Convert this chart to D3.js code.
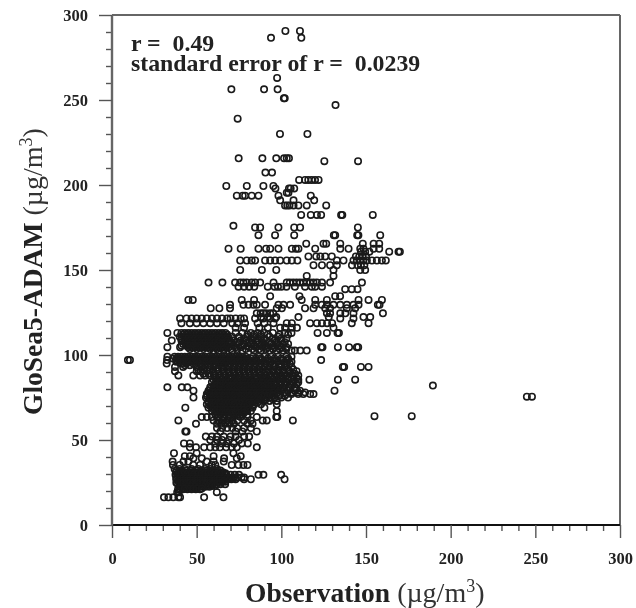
<!DOCTYPE html>
<html>
<head>
<meta charset="utf-8">
<script src="https://cdn.jsdelivr.net/npm/d3@7"></script>
<style>
  html, body { margin: 0; padding: 0; background: #fff; overflow: hidden; }
  svg { display: block; font-family: "Liberation Serif", serif; }
  #plot { filter: blur(0.6px); }
</style>
</head>
<body>
<div id="plot"></div>
<script>
const majorTicks = [0, 50, 100, 150, 200, 250, 300];
const minorTicks = [10, 20, 30, 40, 60, 70, 80, 90, 110, 120, 130, 140, 160, 170, 180, 190, 210, 220, 230, 240, 260, 270, 280, 290];
const statLines = ['r =  0.49', 'standard error of r =  0.0239'];

// The model output sits on rows, so one y per list of x
const upperLevels = [290.6, 286.6, 263, 256.3, 251, 247, 239, 230, 215.7, 214, 207.3, 203, 199.4, 198, 195.5, 193.7, 191, 188, 182.4, 176, 175, 170.5, 165.5, 162.5, 160.8, 158, 155.6, 152.8, 150, 146.5, 142.6, 140.2, 138.7];
const upperObs = [
  [102.4, 111],
  [93.9, 111.8],
  [97.5],
  [70.5, 89.8, 97.8],
  [101.5, 102],
  [132],
  [74.2],
  [99.2, 115.4],
  [74.8, 88.8, 97, 101.6, 103.2, 104.5],
  [125.4, 145.3],
  [90.6, 94.5],
  [110.5, 114, 115.9, 117.9, 119.9, 122],
  [67.5, 79.6, 89.4, 95.3],
  [96.5, 104.5, 105.5, 107.6],
  [103.2, 104.2],
  [73.7, 77.2, 78.6, 82.5, 86.5, 98.3, 117.4],
  [99.3, 107.2, 119.4],
  [102.2, 103.5, 104.8, 107.2, 110.1, 115, 126.5],
  [111.7, 117.4, 121, 123.5, 135.3, 136, 154],
  [71.7],
  [84.5, 87.5, 98.3, 107.6, 111.1, 145.2],
  [86.5, 96.3, 107.6, 131, 131.8, 144.8, 145.5, 158.4],
  [114.7, 124.9, 126.5, 134.8, 148.1, 154.5, 157.8],
  [68.8, 76, 86.5, 91, 93.4, 98.3, 106.2, 108.6, 110.1, 120, 134.8, 139.7, 146.6, 148.5, 154.5, 157.8],
  [147, 149.5, 152, 163.7, 169.2, 170],
  [116, 120.6, 123, 125.9, 129.8, 144, 146, 148, 150],
  [75.7, 79.6, 82.5, 84.5, 90.4, 93.4, 96.3, 99.3, 103.2, 106.2, 109.5, 132.8, 136.7, 142.6, 144.6, 146.6, 148.5, 150.5, 153.5, 156.4, 159.4, 161.7],
  [119, 124, 128.8, 132.8, 141.7, 145, 147, 149],
  [75.7, 88.5, 97, 130.8, 146.6, 149.5],
  [115, 130.8],
  [57, 65.2, 72.7, 75.7, 77.6, 79.6, 82.5, 84.5, 87.5, 95.4, 103.2, 105, 107, 109, 111, 113, 115, 117, 119, 121, 124, 128.8, 147.6],
  [74.7, 78, 81, 84, 92, 96, 98, 100, 103, 108, 114, 118, 120, 124],
  [137.7, 141.6, 145]
];

const middleLevels = [134.6, 132.4, 129.5, 127.5, 124.5, 122.3, 121.5, 118.7, 116, 113, 110.8, 108.5, 106.5, 104.6, 102.6, 99, 97, 95, 93];
const middleObs = [
  [93.4, 110.7, 131.8, 134.7],
  [45.1, 47.7, 76.6, 83.9, 112, 120, 126.9, 145.6, 151.5, 159.4],
  [69.7, 77.6, 80.6, 83.5, 85.5, 90.4, 98.3, 101.3, 105.2, 120, 123.9, 126.9, 130.8, 134.8, 138.7, 142.6, 145.6, 157, 158],
  [58.3, 63.4, 69.7, 97.3, 100.3, 114, 119, 125.9, 128.8, 138.7, 143.6],
  [85.5, 87.8, 89.4, 91, 93.4, 95.2, 126.9, 128.8, 134.8, 137.8, 142.6, 160],
  [88, 92, 97, 110.1, 128, 148.5, 152.5],
  [40.2, 44, 47, 50, 53, 56, 59, 62, 65, 68, 70, 73, 76, 78, 84.5, 89.4, 93.4, 96.3, 134.8, 142.6],
  [41, 46, 50, 54, 58, 62, 66, 71, 74, 78.6, 86, 90, 95.4, 103.2, 106.2, 117, 121, 124, 127, 130, 141.6, 151.5],
  [73, 78, 87, 92, 99.3, 102.2, 106.2, 109.2, 130.8],
  [32.7, 38.6, 41, 43, 45, 47, 49, 51, 53, 55, 57, 59, 61, 63, 65, 67, 73, 77, 82, 86, 90, 95, 102, 106, 121.4, 126.9, 133.2, 134],
  [40, 42.5, 44.5, 46.5, 48.5, 50.5, 52.5, 54.5, 56.5, 58.5, 60.5, 62.5, 64.5, 66.5, 68.5, 71, 75, 80, 84, 88, 93, 98],
  [35.3, 41, 43, 45, 47, 49, 51, 53, 55, 57, 59, 61, 63, 65, 67, 69, 72, 76, 79, 83, 86, 91, 96, 100],
  [42, 44, 46.5, 48.5, 50.5, 52.5, 54.5, 56.5, 58.5, 60.5, 62.5, 64.5, 66.5, 70, 74, 78, 82, 87, 90, 94, 98, 101, 104],
  [32.7, 40.2, 45, 47, 49, 51, 53, 55, 57, 59, 61, 63, 65, 67, 69, 73, 76, 81, 85, 89, 92, 96, 100, 103, 123.5, 124.3, 133.4, 140, 144.6, 145.4],
  [60, 66, 71, 77, 84, 88, 93, 97, 101, 106, 108, 111.2, 115],
  [32.7, 37, 39, 41, 43, 45, 47, 49, 51, 53, 55, 57, 59, 61, 63, 65, 67, 69, 71, 73, 75, 77, 79, 83, 87, 90, 94, 98, 103, 106],
  [9.4, 10.6, 32.5, 38, 40.5, 42.5, 44.5, 46.5, 48.5, 50.5, 52.5, 54.5, 56.5, 58.5, 60.5, 62.5, 64.5, 66.5, 68.5, 70.5, 72.5, 74.5, 76.5, 78.5, 81, 85, 88, 92, 96, 100, 104, 123.5],
  [32.3, 41, 44, 48, 52, 55, 58, 61, 64, 67, 70, 73, 76, 79, 82, 85, 88, 91, 95, 99, 102, 105],
  [37.2, 42, 50, 55, 60, 65, 69, 72, 75, 78, 81, 84, 87, 90, 93, 96, 99, 102, 106, 136.3, 137.1, 147, 151.5]
];

const lowerLevels = [90.5, 88, 85.5, 83, 81, 79, 77, 75, 73, 71, 69, 67, 65, 63.5, 61.5, 59.5, 57, 55, 52, 50, 48, 45.7];
const lowerObs = [
  [37.2, 50, 52.5, 56, 60, 63, 66, 69, 72, 75, 78, 81, 84, 87, 91, 95, 98, 101, 105, 109],
  [39.2, 48, 52, 55, 58, 61, 64, 67, 70, 73, 76, 79, 82, 85, 88, 91, 94, 97, 100, 103, 107, 110],
  [60, 62.5, 65, 67.5, 70, 72.5, 75, 77.5, 80, 82.5, 85, 87.5, 90, 92.5, 95, 98, 101, 104, 107, 110, 116.6, 133.4, 143.6],
  [61, 63.5, 66, 68.5, 71, 73.5, 76, 78.5, 81, 83.5, 86, 88.5, 91, 93.5, 96, 99, 102, 105, 109],
  [32.7, 41.2, 44.5, 58, 60.5, 63, 65.5, 68, 70.5, 73, 75.5, 78, 80.5, 83, 85.5, 88, 90.5, 93, 95.5, 98, 101, 105, 108],
  [48.1, 57, 59.5, 62, 64.5, 67, 69.5, 72, 74.5, 77, 79.5, 82, 84.5, 87, 89.5, 92, 94.5, 97, 100, 104, 108, 111, 131.4],
  [56, 58.5, 61, 63.5, 66, 68.5, 71, 73.5, 76, 78.5, 81, 83.5, 86, 88.5, 91, 93.5, 96, 99, 103, 106, 110, 113, 117, 119],
  [48.1, 55.5, 58, 60.5, 63, 65.5, 68, 70.5, 73, 75.5, 78, 80.5, 83, 85.5, 88, 90.5, 93, 96, 100, 104],
  [57, 59.5, 62, 64.5, 67, 69.5, 72, 74.5, 77, 79.5, 82, 84.5, 87, 89.5, 93, 97.3],
  [56, 58.5, 61, 63.5, 66, 68.5, 71, 73.5, 76, 78.5, 81, 84, 88, 97.3],
  [43.3, 57, 60, 62.5, 65, 67.5, 70, 72.5, 75, 77.5, 80, 83, 90],
  [59, 61.5, 64, 66.5, 69, 71.5, 74, 76.5, 79, 82, 97.3],
  [61, 64, 66.5, 69, 71.5, 74, 77, 80],
  [53, 56, 59, 62, 66, 70, 76, 80, 85.5, 97, 97.6],
  [39.2, 60, 63, 65.5, 68, 71, 74, 78, 82, 89, 91.4, 106.8],
  [49.6, 62, 64.5, 67, 69.5, 72, 80, 83],
  [62, 65, 68, 71, 74, 78, 82],
  [43.3, 44, 64, 73, 77, 85.5],
  [55.4, 59, 62, 66, 70, 73, 78, 81],
  [58, 62, 65, 69, 75],
  [42.5, 46, 61, 65, 68, 72, 76.6, 80.2],
  [46, 49.6, 54.4, 58, 61, 63.8, 67.4, 70.7, 73.7, 85.5]
];

const bottomLevels = [42.2, 40.5, 39.2, 37.3, 35.3, 33, 31, 29.5, 28, 26.9, 25.5, 24, 22.5, 21, 19.3, 16.3];
const bottomObs = [
  [36.6, 50, 71.7],
  [43, 46, 60, 76],
  [48.1, 53, 66.2, 73.7],
  [35.8, 42.2, 45.1, 56, 60, 66],
  [36, 40, 48, 52, 58.9, 61, 70.7, 74.7, 77.6, 80],
  [37, 40, 43, 47, 51, 55, 58, 62],
  [38, 40.5, 43, 45.5, 48, 50.5, 53, 55.5, 58, 60.5, 63, 65.5],
  [37.5, 40, 42.5, 45, 47.5, 50, 52.5, 55, 57.5, 60, 62.5, 65, 67.5, 70, 72.5, 75, 86.5, 89.4, 99.9],
  [39, 41.5, 44, 46.5, 49, 51.5, 54, 56.5, 59, 61.5, 64, 66.5, 69, 71.5, 74, 76.5, 78],
  [38, 40.5, 43, 45.5, 48, 50.5, 53, 55.5, 58, 60.5, 63, 65.5, 68, 70.5, 73, 78, 82, 101.9],
  [39.5, 42, 44.5, 47, 49.5, 52, 54.5, 57, 59.5, 62, 64.5, 67],
  [39, 41.5, 44, 46.5, 49, 51.5, 54, 56.5, 59, 61.5, 64, 66.8],
  [40, 42.5, 45, 47.5, 50, 52.5, 55, 57.5],
  [39, 42, 44.5, 47, 49.5, 52],
  [38.5, 39.5, 61.9],
  [30.7, 33.3, 36.2, 39.2, 40.2, 54.4, 65.8]
];

// Black areas of the cloud, where single rings can no longer be told apart
const denseLevels = [112, 109.7, 107.5, 105.5, 103.5, 98, 96, 94, 91.5, 89, 86.5, 84, 82, 80, 78, 76, 74, 72, 70, 68, 66, 64, 32, 30.5, 27.5, 26, 24.8, 23, 21.5];
const denseObs = [
  [42, 44, 46, 48, 50, 52, 54, 56, 58, 60, 62, 64, 66, 68, 80, 84, 88, 92, 99, 104],
  [41, 43, 45, 47, 49, 51, 53, 55, 57, 59, 61, 63, 65, 67, 69, 78, 82, 86, 90, 95, 100, 103],
  [43, 45, 47, 49, 51, 53, 55, 57, 59, 61, 63, 65, 67, 70, 74, 81, 85, 89, 93, 97, 102],
  [41, 44, 46, 48, 50, 52, 54, 56, 58, 60, 62, 64, 66, 68, 72, 77, 80, 84, 88, 91, 95, 99],
  [46, 50, 54, 58, 62, 66, 70, 74, 79, 83, 87, 91, 95, 99, 103],
  [36, 38, 40, 42, 44, 46, 48, 50, 52, 54, 56, 58, 60, 62, 64, 66, 68, 70, 72, 74, 76, 78, 80, 82, 85, 88, 92, 96, 100, 104],
  [38, 40, 42, 44, 46, 48, 50, 52, 54, 56, 58, 60, 62, 64, 66, 68, 70, 72, 74, 76, 78, 80, 83, 86, 90, 94, 98, 102, 106],
  [43, 46, 50, 53, 57, 60, 63, 66, 69, 72, 75, 78, 81, 84, 87, 90, 93, 96, 100, 103],
  [51, 54, 58, 62, 65, 68, 71, 74, 77, 80, 83, 86, 89, 92, 95, 98, 101, 104, 107],
  [54, 57, 60, 63, 66, 69, 72, 75, 78, 81, 84, 87, 90, 93, 96, 99, 102, 105, 108],
  [61, 64, 66, 69, 71, 74, 76, 79, 81, 84, 86, 89, 91, 94, 96, 99, 101, 104, 106, 109],
  [59, 62, 64, 67, 69, 72, 74, 77, 79, 82, 84, 87, 89, 92, 94, 97, 100, 103, 107, 110],
  [60, 62, 64, 66, 68, 70, 72, 74, 76, 78, 80, 82, 84, 86, 88, 90, 92, 94, 96, 99, 102, 106],
  [58, 60, 62, 64, 66, 68, 70, 72, 74, 76, 78, 80, 82, 84, 86, 88, 90, 92, 94, 96, 98, 101, 105, 109],
  [57, 59, 61, 63, 65, 67, 69, 71, 73, 75, 77, 79, 81, 83, 85, 87, 89, 91, 93, 95, 98, 102, 106, 110, 114],
  [56, 58, 60, 62, 64, 66, 68, 70, 72, 74, 76, 78, 80, 82, 84, 86, 88, 90, 92, 95, 99, 102],
  [58, 60, 62, 64, 66, 68, 70, 72, 74, 76, 78, 80, 82, 84, 86, 88, 91, 95],
  [57, 59, 61, 63, 65, 67, 69, 71, 73, 75, 77, 79, 81, 83, 86],
  [58, 60, 62, 64, 66, 68, 70, 72, 74, 76, 78, 80, 83],
  [60, 62, 64, 66, 68, 70, 72, 74, 76, 78, 80],
  [62, 65, 67, 69, 71, 73, 75, 78],
  [63, 66, 69, 72, 75],
  [38, 41, 44, 47, 50, 53, 56, 59, 61, 64],
  [39, 41, 43, 45, 47, 49, 51, 53, 55, 57, 59, 61, 63, 65, 67],
  [38, 40, 42, 44, 46, 48, 50, 52, 54, 56, 58, 60, 62, 64, 66, 68, 70, 72],
  [40, 42, 44, 46, 48, 50, 52, 54, 56, 58, 60, 62, 64, 66],
  [38, 40, 42, 44, 46, 48, 50, 52, 54, 56, 58, 60, 62, 64],
  [41, 43, 45, 47, 49, 51, 53, 55, 57, 59, 61],
  [40, 43, 46, 48, 50, 53]
];

const outlierObs = [189.5, 177, 155, 245, 248];
const outlierModel = [82, 64, 64, 75.5, 75.5];

const width = 636, height = 608;
const margin = { top: 15, right: 16, bottom: 83, left: 112 };

function toPoints(levels, obs) {
  return levels.flatMap((level, i) => obs[i].map(v => ({ obs: v, model: level })));
}

const points = [
  ...toPoints(upperLevels, upperObs),
  ...toPoints(middleLevels, middleObs),
  ...toPoints(lowerLevels, lowerObs),
  ...toPoints(bottomLevels, bottomObs),
  ...toPoints(denseLevels, denseObs),
  ...outlierObs.map((v, i) => ({ obs: v, model: outlierModel[i] }))
];

const x = d3.scaleLinear().domain([0, 300]).range([margin.left, width - margin.right]);
const y = d3.scaleLinear().domain([0, 300]).range([height - margin.bottom, margin.top]);

const svg = d3.select('#plot').append('svg').attr('width', width).attr('height', height);

// Frame: top and right are plain lines
svg.append('line').attr('x1', x(0)).attr('x2', x(300)).attr('y1', y(300)).attr('y2', y(300))
  .attr('stroke', '#666').attr('stroke-width', 2);
svg.append('line').attr('x1', x(300)).attr('x2', x(300)).attr('y1', y(300)).attr('y2', y(0))
  .attr('stroke', '#666').attr('stroke-width', 2);

// Markers
svg.append('g').selectAll('circle')
  .data(points)
  .enter().append('circle')
  .attr('cx', d => x(d.obs))
  .attr('cy', d => y(d.model))
  .attr('r', 3.2)
  .attr('fill', 'none')
  .attr('stroke', '#1a1a1a')
  .attr('stroke-width', 1.6);

// Axes
const bottomMinor = svg.append('g').attr('transform', `translate(0,${y(0)})`)
  .call(d3.axisBottom(x).tickValues(minorTicks).tickSize(6).tickFormat(''));
const bottomMajor = svg.append('g').attr('transform', `translate(0,${y(0)})`)
  .call(d3.axisBottom(x).tickValues(majorTicks).tickSize(13).tickPadding(14).tickFormat(d3.format('d')));
const leftMinor = svg.append('g').attr('transform', `translate(${x(0)},0)`)
  .call(d3.axisLeft(y).tickValues(minorTicks).tickSize(6).tickFormat(''));
const leftMajor = svg.append('g').attr('transform', `translate(${x(0)},0)`)
  .call(d3.axisLeft(y).tickValues(majorTicks).tickSize(13).tickPadding(11).tickFormat(d3.format('d')));

[bottomMinor, bottomMajor, leftMinor, leftMajor].forEach(a => {
  a.attr('font-family', null).attr('font-size', null);
  a.selectAll('.tick line').attr('stroke', '#555').attr('stroke-width', 1.4);
  a.selectAll('.tick text')
    .attr('fill', '#222')
    .attr('font-size', '16.5px')
    .attr('font-weight', 'bold');
});
bottomMinor.select('.domain').remove();
leftMinor.select('.domain').remove();
bottomMajor.select('.domain').attr('d', `M${x(0)},0H${x(300)}`).attr('stroke', '#111').attr('stroke-width', 2.2);
leftMajor.select('.domain').attr('d', `M0,${y(0)}V${y(300)}`).attr('stroke', '#666').attr('stroke-width', 2.4);

// Stat lines, one text with two rows because the lines sit tighter than the font height
const stats = svg.append('text')
  .attr('font-size', '23.8px')
  .attr('font-weight', 'bold')
  .attr('fill', '#222')
  .style('white-space', 'pre');
stats.selectAll('tspan')
  .data(statLines)
  .enter().append('tspan')
  .attr('x', 131)
  .attr('y', (d, i) => 51 + i * 19.5)
  .text(d => d);

function unitTitle(sel) {
  sel.append('tspan').attr('font-weight', 'normal').attr('font-size', '28px').attr('fill', '#333').text(' (\u00b5g/m');
  sel.append('tspan').attr('font-weight', 'normal').attr('font-size', '18px').attr('fill', '#333').attr('dy', -10).text('3');
  sel.append('tspan').attr('font-weight', 'normal').attr('font-size', '28px').attr('fill', '#333').attr('dy', 10).text(')');
}

const xTitle = svg.append('text')
  .attr('x', 245).attr('y', 602)
  .attr('font-size', '27.5px').attr('fill', '#222').attr('font-weight', 'bold');
xTitle.append('tspan').text('Observation');
unitTitle(xTitle);

const yTitle = svg.append('text')
  .attr('transform', 'translate(42,415) rotate(-90)')
  .attr('font-size', '27.5px').attr('fill', '#222').attr('font-weight', 'bold');
yTitle.append('tspan').text('GloSea5-ADAM');
unitTitle(yTitle);
</script>
</body>
</html>
